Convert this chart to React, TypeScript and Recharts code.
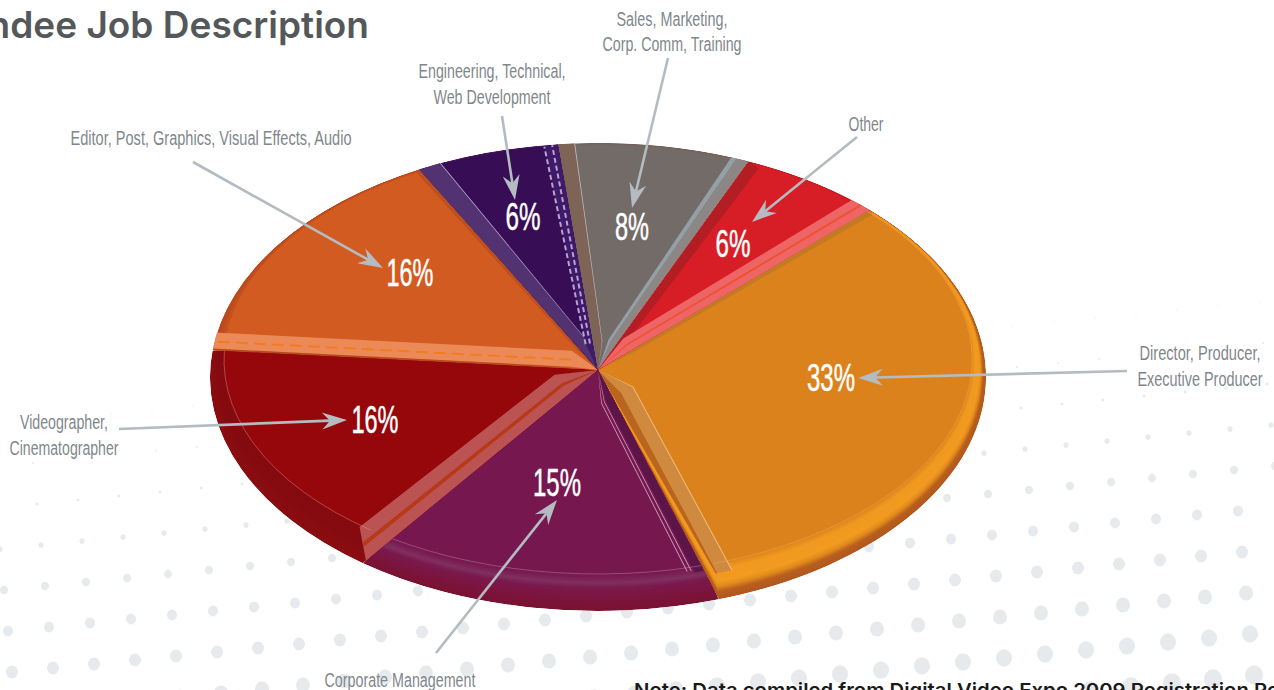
import { PieChart, Pie } from "recharts";

const WIDTH = 1274;
const HEIGHT = 690;

// clockwise from the upper right, shares (they round to the printed %)
const categories = [
  "Director, Producer, Executive Producer",
  "Corporate Management",
  "Videographer, Cinematographer",
  "Editor, Post, Graphics, Visual Effects, Audio",
  "Engineering, Technical, Web Development",
  "Sales, Marketing, Corp. Comm, Training",
  "Other",
];
const shares = [32.6, 15.4, 16.45, 15.55, 6, 8, 6];

const labelLines = [
  ["Director, Producer,", "Executive Producer"],
  ["Corporate Management"],
  ["Videographer,", "Cinematographer"],
  ["Editor, Post, Graphics, Visual Effects, Audio"],
  ["Engineering, Technical,", "Web Development"],
  ["Sales, Marketing,", "Corp. Comm, Training"],
  ["Other"],
];

const pieData = categories.map((name, i) => ({ name, value: shares[i] }));

// where the printed callouts sit
const callouts = [
  { px: 831, py: 391, pw: 48, lx: 1200, ly: [360, 386], lw: [121, 125], from: [1127, 371], to: [858, 378] },
  { px: 557, py: 496, pw: 48, lx: 400, ly: [687], lw: [151], from: [436, 653], to: [557, 500] },
  { px: 375, py: 433, pw: 47, lx: 64, ly: [429, 455], lw: [88, 109], from: [119, 429], to: [347, 420] },
  { px: 410, py: 286, pw: 47, lx: 211, ly: [145], lw: [281], from: [193, 162], to: [383, 268] },
  { px: 523, py: 230, pw: 35, lx: 492, ly: [78, 104], lw: [147, 117], from: [502, 116], to: [515, 200] },
  { px: 632, py: 240, pw: 34, lx: 672, ly: [26, 51], lw: [111, 139], from: [668, 58], to: [632, 208] },
  { px: 733, py: 257, pw: 35, lx: 866, ly: [131], lw: [35], from: [857, 137], to: [752, 222] },
];

type Band = {
  side: "start" | "end";
  o1: number;
  o2: number;
  color: string;
  dash?: string;
  clip?: number; // stop the band at this ring
  q?: number; // width kept near the centre
  f1?: number; // how far along the edge each long side runs
  f2?: number;
};
type SliceStyle = { rings: [number, string][]; bands: Band[]; hair?: string };

// rings go from the outer rim (0) to the flat top (1)
const sliceStyles: SliceStyle[] = [
  {
    rings: [[0, "#B2581F"], [0.2, "#B8601F"], [0.34, "#E08A1E"], [0.48, "#F39B20"], [0.8, "#F09820"], [1, "#DC821C"]],
    bands: [
      { side: "start", o1: 0, o2: 5, color: "#C27A25" },
      { side: "end", o1: 0, o2: 11, color: "#B8651F", clip: 0.72, q: 0.9 },
      { side: "end", o1: 11, o2: 25, color: "#D08A40", clip: 0.72, q: 0.9 },
      { side: "end", o1: 25, o2: 26, color: "#EDBF84", clip: 0.72, q: 0.9 },
    ],
    hair: "#F0B060",
  },
  {
    rings: [[0, "#7A1232"], [0.35, "#7C1540"], [0.6, "#7A1A4E"], [0.74, "#80305F"], [0.88, "#7A2055"], [1, "#76174F"]],
    bands: [
      { side: "start", o1: 0, o2: 9, color: "#5C1548", clip: 0.85, q: 0.8 },
      { side: "start", o1: 11, o2: 12, color: "#C79AB5", clip: 0.9, q: 0.8 },
      { side: "start", o1: 15, o2: 16, color: "#C79AB5", clip: 0.9, q: 0.8 },
    ],
    hair: "#C79AB5",
  },
  {
    rings: [[0, "#8A0D10"], [0.55, "#850B10"], [0.98, "#850B10"], [1, "#96070C"]],
    bands: [
      { side: "start", o1: 0, o2: 30, color: "#BA5352", q: 0.8, f1: 0.987, f2: 0.933 },
      { side: "start", o1: 12, o2: 16, color: "#B8391A", q: 0.8, f1: 0.965, f2: 0.96 },
    ],
    hair: "#E8A0A0",
  },
  {
    rings: [[0, "#B8471E"], [0.5, "#C04F1F"], [0.98, "#C8551F"], [1, "#D15B20"]],
    bands: [
      { side: "end", o1: 0, o2: 4, color: "#BE4F1F" },
      { side: "start", o1: 2, o2: 18, color: "#EC8A57", q: 1 },
      { side: "start", o1: 9, o2: 11, color: "#F47A20", dash: "12 6", q: 1 },
    ],
  },
  {
    rings: [[0, "#4A1A60"], [0.5, "#3D1159"], [1, "#370D55"]],
    bands: [
      { side: "start", o1: 0, o2: 20, color: "#523270" },
      { side: "start", o1: 20, o2: 21, color: "#B9A5CC" },
      { side: "end", o1: 0, o2: 14, color: "#3F1A6A" },
      { side: "end", o1: 6, o2: 7, color: "#B9A5CC", dash: "5 3" },
      { side: "end", o1: 14, o2: 15, color: "#B9A5CC", dash: "5 3" },
    ],
  },
  {
    rings: [[0, "#7A5C50"], [0.6, "#736B68"], [1, "#736B68"]],
    bands: [
      { side: "start", o1: 0, o2: 16, color: "#7E6456" },
      { side: "start", o1: 16, o2: 17, color: "#B9B3AE" },
      { side: "end", o1: 0, o2: 12, color: "#8C8784" },
      { side: "end", o1: 12, o2: 17, color: "#93A0A5" },
    ],
  },
  {
    rings: [[0, "#B51E25"], [0.6, "#D71E26"], [1, "#D71E26"]],
    bands: [
      { side: "start", o1: 0, o2: 12, color: "#B21E24" },
      { side: "end", o1: 0, o2: 18, color: "#EE6565", q: 0.8 },
      { side: "end", o1: 8, o2: 10, color: "#F0502F", q: 0.8 },
    ],
  },
];

const ARROW = "#B4BBC1";
const LABEL = "#7F878B";
const NARROW = "'Liberation Sans Narrow', 'Liberation Sans', sans-serif";

// tilted disc: every ring is an ellipse, a little higher up the closer it is to the top face
function ringEllipse(cx: number, cy: number, r: number, blend: number) {
  return {
    x: cx,
    y: cy + 7 - 17 * blend,
    a: r - 14 * blend,
    b: r * (234 / 388) - 20 * blend,
  };
}

function onEllipse(e: { x: number; y: number; a: number; b: number }, deg: number) {
  const t = (deg * Math.PI) / 180;
  return [e.x + e.a * Math.cos(t), e.y - e.b * Math.sin(t)];
}

function mixHex(c1: string, c2: string, f: number) {
  const parts = [1, 3, 5].map((i) => {
    const a = parseInt(c1.slice(i, i + 2), 16);
    const b = parseInt(c2.slice(i, i + 2), 16);
    return Math.round(a + (b - a) * f);
  });
  return `rgb(${parts.join(",")})`;
}

// soften the rim: a few in-between rings for every pair of stops
function smoothRings(rings: [number, string][]) {
  const out: [number, string][] = [];
  rings.forEach(([blend, color], i) => {
    if (i === rings.length - 1) {
      out.push([blend, color]);
      return;
    }
    const [nextBlend, nextColor] = rings[i + 1];
    for (let s = 0; s < 5; s++) {
      out.push([blend + ((nextBlend - blend) * s) / 5, mixHex(color, nextColor, s / 5)]);
    }
  });
  return out;
}

function SliceShape(props: any) {
  const { cx, cy, outerRadius, startAngle, endAngle, index } = props;
  const style = sliceStyles[index];
  const sector = (blend: number) => {
    const e = ringEllipse(cx, cy, outerRadius, blend);
    const p0 = onEllipse(e, startAngle);
    const p1 = onEllipse(e, endAngle);
    const large = Math.abs(startAngle - endAngle) > 180 ? 1 : 0;
    return `M${cx},${cy}L${p0[0]},${p0[1]}A${e.a},${e.b} 0 ${large} 1 ${p1[0]},${p1[1]}Z`;
  };
  const outer = ringEllipse(cx, cy, outerRadius, 0);
  const mid = onEllipse(outer, (startAngle + endAngle) / 2);

  const bandPath = (band: Band) => {
    const edge = onEllipse(outer, band.side === "start" ? startAngle : endAngle);
    const dx = edge[0] - cx;
    const dy = edge[1] - cy;
    const len = Math.hypot(dx, dy);
    let nx = -dy / len;
    let ny = dx / len;
    if (nx * (mid[0] - cx) + ny * (mid[1] - cy) < 0) {
      nx = -nx;
      ny = -ny;
    }
    const at = (f: number, o: number) => `${cx + dx * f + nx * o},${cy + dy * f + ny * o}`;
    const q = band.q ?? 0.55;
    const f = q >= 1 ? 0.07 : 0.12;
    const f1 = band.f1 ?? 1;
    const f2 = band.f2 ?? 1;
    if (band.dash) {
      return `M${at(f, band.o1 * q)}L${at(f1, band.o1)}`;
    }
    return (
      `M${cx},${cy}L${at(f, band.o1 * q)}L${at(f1, band.o1)}` +
      `L${at(f2, band.o2)}L${at(f, band.o2 * q)}Z`
    );
  };

  const id = `slice-clip-${index}`;
  const top = ringEllipse(cx, cy, outerRadius, 1);
  const t0 = onEllipse(top, startAngle);
  const t1 = onEllipse(top, endAngle);
  const large = Math.abs(startAngle - endAngle) > 180 ? 1 : 0;

  return (
    <g>
      <clipPath id={id}>
        <path d={sector(0)} />
      </clipPath>
      {style.bands.map((band, i) =>
        band.clip != null ? (
          <clipPath key={i} id={`${id}-${i}`}>
            <path d={sector(band.clip)} />
          </clipPath>
        ) : null
      )}
      <g clipPath={`url(#${id})`}>
        {smoothRings(style.rings).map(([blend, color]) => (
          <path key={blend} d={sector(blend)} fill={color} />
        ))}
        {style.bands.map((band, i) => (
          <path
            key={i}
            d={bandPath(band)}
            clipPath={band.clip != null ? `url(#${id}-${i})` : undefined}
            fill={band.dash ? "none" : band.color}
            stroke={band.dash ? band.color : "none"}
            strokeWidth={band.dash ? 2 : 0}
            strokeDasharray={band.dash}
          />
        ))}
        {style.hair && (
          <path
            d={`M${t0[0]},${t0[1]}A${top.a},${top.b} 0 ${large} 1 ${t1[0]},${t1[1]}`}
            fill="none"
            stroke={style.hair}
            strokeWidth={0.6}
            opacity={0.7}
          />
        )}
      </g>
    </g>
  );
}

function Callout(props: any) {
  const { index, value } = props;
  const c = callouts[index];
  const [x1, y1] = c.from;
  const [x2, y2] = c.to;
  const len = Math.hypot(x2 - x1, y2 - y1);
  const ux = (x2 - x1) / len;
  const uy = (y2 - y1) / len;
  const head = 25;
  const wing = 8.5;
  const bx = x2 - ux * head;
  const by = y2 - uy * head;
  const nx = x2 - ux * (head - 8);
  const ny = y2 - uy * (head - 8);
  return (
    <g>
      <line x1={x1} y1={y1} x2={nx} y2={ny} stroke={ARROW} strokeWidth={2.6} />
      <polygon
        points={`${x2},${y2} ${bx - uy * wing},${by + ux * wing} ${nx},${ny} ${bx + uy * wing},${by - ux * wing}`}
        fill={ARROW}
      />
      <text
        x={c.px - c.pw / 2}
        y={c.py}
        fill="#fff"
        stroke="#fff"
        strokeWidth={0.5}
        fontFamily={NARROW}
        fontSize={39}
        textLength={c.pw}
        lengthAdjust="spacingAndGlyphs"
      >
        {`${Math.round(value)}%`}
      </text>
      {labelLines[index].map((line, i) => (
        <text
          key={line}
          x={c.lx - c.lw[i] / 2}
          y={c.ly[i]}
          fill={LABEL}
          fontFamily={NARROW}
          fontSize={20}
          textLength={c.lw[i]}
          lengthAdjust="spacingAndGlyphs"
        >
          {line}
        </text>
      ))}
    </g>
  );
}

// the page's decorative dot field, a slightly rotated grid that grows toward the bottom
const dotRows = [
  { row: -4, r: 0.6 },
  { row: -3, r: 0.9 },
  { row: -2, r: 1.5 },
  { row: -1, r: 2.6 },
  { row: 0, r: 4 },
  { row: 1, r: 5 },
  { row: 2, r: 6 },
  { row: 3, r: 7 },
  { row: 4, r: 8 },
  { row: 5, r: 9 },
];

function Backdrop() {
  const dots: any[] = [];
  dotRows.forEach(({ row, r }) => {
    for (let col = -3; col < 34; col++) {
      dots.push(
        <ellipse
          key={`${row}-${col}`}
          cx={45 + col * 41 + row * 4}
          cy={586 - col * 4 + row * 41}
          rx={r}
          ry={r * 1.08}
          fill="#E6EAED"
        />
      );
    }
  });
  return (
    <svg width={WIDTH} height={HEIGHT} style={{ position: "absolute", left: 0, top: 0 }}>
      {dots}
      <text x={369} y={38} textAnchor="end" fill="#54585A" fontFamily="Inter, sans-serif" fontWeight={600} fontSize={37}>
        Attendee Job Description
      </text>
      <text
        x={634}
        y={697}
        fill="#1A1A1A"
        fontFamily="Inter, sans-serif"
        fontWeight={600}
        fontSize={19}
        textLength={645}
        lengthAdjust="spacingAndGlyphs"
      >
        Note: Data compiled from Digital Video Expo 2009 Registration Re
      </text>
    </svg>
  );
}

export default function App() {
  return (
    <div style={{ position: "absolute", left: 0, top: 0, width: WIDTH, height: HEIGHT, overflow: "hidden", background: "#fff" }}>
      <Backdrop />
      <div style={{ position: "absolute", left: 0, top: 0 }}>
        <PieChart width={WIDTH} height={HEIGHT} margin={{ top: 0, right: 0, bottom: 0, left: 0 }}>
          <Pie
            data={pieData}
            dataKey="value"
            nameKey="name"
            cx={598}
            cy={370}
            innerRadius={0}
            outerRadius={388}
            startAngle={45.5}
            endAngle={-314.5}
            paddingAngle={0}
            stroke="none"
            shape={SliceShape}
            label={Callout}
            labelLine={false}
            isAnimationActive={false}
          />
        </PieChart>
      </div>
    </div>
  );
}
